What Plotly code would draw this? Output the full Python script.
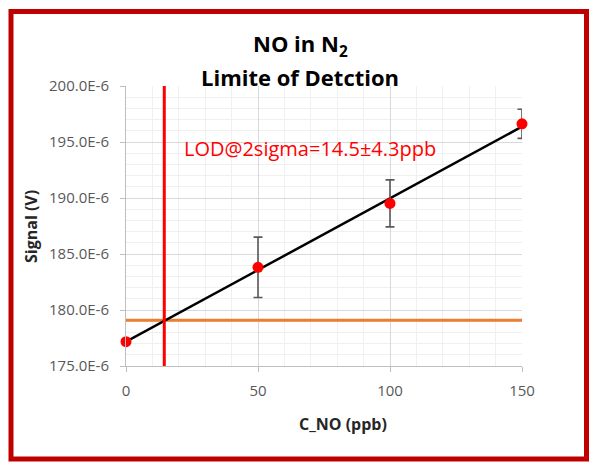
import plotly.graph_objects as go

# ---- data ----
conc_ppb = [0, 50, 100, 150]
signal_v = [177.17e-6, 183.81e-6, 189.52e-6, 196.62e-6]
signal_err_v = [0.0, 2.7e-6, 2.1e-6, 1.3e-6]
fit_x = [0, 150]
fit_y = [177.17e-6, 196.37e-6]
lod_ppb = 14.5
blank_limit_v = 179.08e-6
y_tick_vals = [175e-6, 180e-6, 185e-6, 190e-6, 195e-6, 200e-6]
y_tick_text = ["175.0E-6", "180.0E-6", "185.0E-6", "190.0E-6", "195.0E-6", "200.0E-6"]
x_tick_vals = [0, 50, 100, 150]
x_tick_text = ["0", "50", "100", "150"]
lod_label = "LOD@2sigma=14.5±4.3ppb"
title_lines = ["NO in N<sub>2</sub>", "Limite of Detction"]

W, H = 590, 462
ML, MR, MT, MB = 126, 68, 86, 96
PW, PH = W - ML - MR, H - MT - MB


def px_x(px):
    return (px - ML) / PW


def px_y(py):
    return (H - MB - py) / PH


FONT = "Open Sans"

fig = go.Figure()

# blank + 2 sigma level (orange)
fig.add_trace(go.Scatter(
    x=[x_tick_vals[0], x_tick_vals[-1]], y=[blank_limit_v, blank_limit_v],
    mode="lines", line=dict(color="#ED7D31", width=3), hoverinfo="skip"))

# linear fit
fig.add_trace(go.Scatter(
    x=fit_x, y=fit_y, mode="lines", line=dict(color="#000000", width=2.5),
    hoverinfo="skip"))

# LOD vertical line
fig.add_trace(go.Scatter(
    x=[lod_ppb, lod_ppb], y=[y_tick_vals[0], y_tick_vals[-1]],
    mode="lines", line=dict(color="#FF0000", width=3), hoverinfo="skip"))

# measurements
fig.add_trace(go.Scatter(
    x=conc_ppb, y=signal_v, mode="markers", cliponaxis=False,
    marker=dict(color="#FF0000", size=11, line=dict(width=0)),
    error_y=dict(type="data", array=signal_err_v, visible=True,
                 color="#595959", thickness=1.6, width=4.5)))

grid_major = "#D9D9D9"
grid_minor = "#F0F0F0"

fig.update_layout(
    width=W, height=H,
    margin=dict(l=ML, r=MR, t=MT, b=MB),
    paper_bgcolor="white", plot_bgcolor="white",
    showlegend=False,
    font=dict(family=FONT, color="#595959"),
    xaxis=dict(
        range=[0, 150], tickmode="array", tickvals=x_tick_vals, ticktext=x_tick_text,
        showgrid=True, gridcolor=grid_major, gridwidth=1,
        minor=dict(tickmode="linear", tick0=0, dtick=10, showgrid=True,
                   gridcolor=grid_minor, gridwidth=1, ticks=""),
        showline=True, linecolor="#BFBFBF", linewidth=1,
        ticks="outside", ticklen=5, tickcolor="#BFBFBF",
        tickfont=dict(family=FONT, size=15, color="#595959"),
        ticklabelstandoff=6, zeroline=False, fixedrange=True),
    yaxis=dict(
        range=[y_tick_vals[0], y_tick_vals[-1]], tickmode="array",
        tickvals=y_tick_vals, ticktext=y_tick_text,
        showgrid=True, gridcolor=grid_major, gridwidth=1,
        minor=dict(tickmode="linear", tick0=175e-6, dtick=1e-6, showgrid=True,
                   gridcolor=grid_minor, gridwidth=1, ticks=""),
        showline=True, linecolor="#BFBFBF", linewidth=1,
        ticks="outside", ticklen=5, tickcolor="#BFBFBF",
        tickfont=dict(family=FONT, size=15, color="#595959"),
        ticklabelstandoff=8, zeroline=False, fixedrange=True),
    shapes=[dict(type="rect", xref="paper", yref="paper",
                 x0=px_x(11), x1=px_x(586.5), y0=px_y(459), y1=px_y(11.5),
                 line=dict(color="#C00000", width=5), fillcolor="rgba(0,0,0,0)",
                 layer="above")],
    annotations=[
        dict(text="<b>" + title_lines[0] + "</b>", x=px_x(300), y=px_y(26),
             xref="paper", yref="paper", xanchor="center", yanchor="top",
             showarrow=False, font=dict(family=FONT, size=22, color="#000000")),
        dict(text="<b>" + title_lines[1] + "</b>", x=px_x(300), y=px_y(77),
             xref="paper", yref="paper", xanchor="center", yanchor="middle",
             showarrow=False, font=dict(family=FONT, size=22, color="#000000")),
        dict(text=lod_label, x=21.1, y=194.45e-6, xref="x", yref="y",
             xanchor="left", yanchor="middle", showarrow=False,
             font=dict(family=FONT, size=20, color="#FF0000")),
        dict(text="<b>C_NO (ppb)</b>", x=px_x(343), y=px_y(424), xref="paper", yref="paper",
             xanchor="center", yanchor="middle", showarrow=False,
             font=dict(family=FONT, size=16, color="#262626")),
        dict(text="<b>Signal (V)</b>", x=px_x(31), y=px_y(227), xref="paper", yref="paper",
             xanchor="center", yanchor="middle", showarrow=False, textangle=-90,
             font=dict(family=FONT, size=16, color="#262626")),
    ],
)

fig.write_html("out.html")
